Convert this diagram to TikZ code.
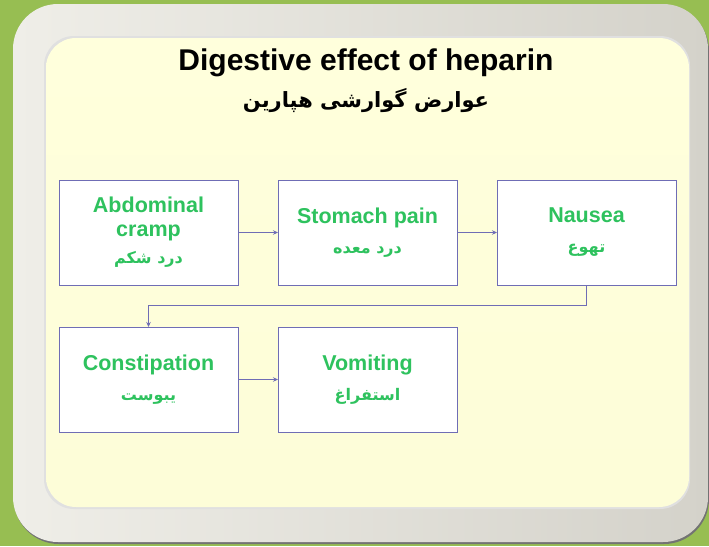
\documentclass[tikz,border=0pt]{standalone}
\usepackage{fontspec}
\setmainfont{Liberation Sans}
\newfontfamily\farsifont[Script=Arabic]{DejaVu Sans}
\TeXXeTstate=1
\usepackage{xcolor}
\usepackage{tikz}
\usetikzlibrary{arrows.meta, positioning}
\definecolor{slidegreen}{HTML}{97BE52}
\definecolor{frametop}{HTML}{EFEEE8}
\definecolor{framebot}{HTML}{D4D2CA}
\definecolor{paneltop}{HTML}{FFFFDC}
\definecolor{panelbot}{HTML}{FDFDD8}
\definecolor{boxline}{HTML}{6F6DB5}
\definecolor{symgreen}{HTML}{2EC25E}
\newcommand{\fatext}[2][16]{{\farsifont\bfseries\fontsize{#1}{#1}\selectfont\beginR #2\endR}}
\tikzset{
  symbox/.style={draw=boxline, line width=0.9pt, fill=white, align=center,
                 minimum width=179pt, minimum height=105pt, inner sep=4pt,
                 outer sep=0pt, text=symgreen,
                 font=\bfseries\fontsize{21.5}{24}\selectfont},
  flow/.style={-{Stealth[length=5pt, width=4.5pt]}, line width=0.9pt, draw=boxline},
  ttl/.style={font=\bfseries\fontsize{30}{32}\selectfont, text=black},
}

\begin{document}
\begin{tikzpicture}[x=1pt, y=-1pt, node distance=42pt and 40pt]
  \useasboundingbox (0,0) rectangle (709,546);
  % slide background and frame
  \fill[slidegreen] (0,0) rectangle (709,546);
  \fill[black!55, rounded corners=45pt] (14,6) rectangle (709,544);
  \shade[left color=frametop, right color=framebot, rounded corners=45pt] (13,4) rectangle (708,542);
  \fill[black!12, rounded corners=30pt] (44,36) rectangle (690,509);
  \shade[top color=paneltop, bottom color=panelbot, rounded corners=30pt] (46,38) rectangle (689,507);

  \node[ttl] (title) at (366,63) {Digestive effect of heparin};
  \node[text=black] (subtitle) at (366,101) {\fatext[21]{عوارض گوارشی هپارین}};

  \node[symbox] (cramp) at (148.5,232.5) {Abdominal\\ cramp\\[3pt] \fatext{درد شکم}};
  \node[symbox, right=of cramp] (stomach) {Stomach pain\\[6pt] \fatext{درد معده}};
  \node[symbox, right=of stomach] (nausea) {Nausea\\[6pt] \fatext{تهوع}};
  \node[symbox, below=of cramp] (constip) {Constipation\\[6pt] \fatext{یبوست}};
  \node[symbox, right=of constip] (vomit) {Vomiting\\[6pt] \fatext{استفراغ}};

  \draw[flow] (cramp) -- (stomach);
  \draw[flow] (stomach) -- (nausea);
  \draw[flow] (nausea.south) -- ++(0,20) -| (constip.north);
  \draw[flow] (constip) -- (vomit);
\end{tikzpicture}
\end{document}
